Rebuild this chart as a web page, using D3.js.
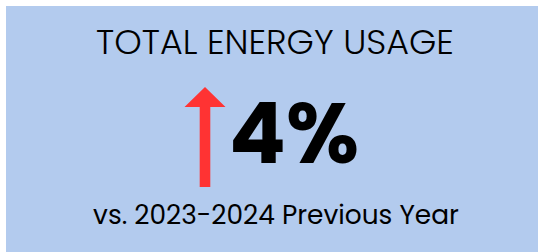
<!DOCTYPE html>
<html><head><meta charset="utf-8">
<script src="https://cdn.jsdelivr.net/npm/d3@7"></script>
<style>html,body{margin:0;padding:0;background:#fff;}svg{display:block;}</style>
</head><body>
<script>
const titles = ["TOTAL ENERGY USAGE"];
const changeValues = [4];
const changeDirections = ["up"];
const subtitles = ["vs. 2023-2024 Previous Year"];

const W = 542, H = 252;
const svg = d3.select("body").append("svg").attr("width", W).attr("height", H);
svg.append("rect").attr("x", 6).attr("y", 6).attr("width", 532).attr("height", 250).attr("fill", "#b3cbee");

const font = "Poppins, Lato, 'Open Sans', sans-serif";
const fmt = d3.format(".0%");

function fit(sel, target) {
  const w = sel.node().getComputedTextLength();
  const fs = parseFloat(sel.attr("font-size"));
  sel.attr("font-size", fs * target / w);
}

const t = svg.append("text").attr("x", 275).attr("y", 54).attr("text-anchor", "middle")
  .attr("font-family", font).attr("font-weight", 300).attr("font-size", 32).attr("fill", "#000")
  .text(titles[0]);
fit(t, 358);

const v = svg.append("text").attr("x", 229).attr("y", 163).attr("text-anchor", "start")
  .attr("font-family", font).attr("font-weight", 700).attr("font-size", 90).attr("fill", "#000")
  .text(fmt(changeValues[0] / 100));
fit(v, 130);

const s = svg.append("text").attr("x", 276).attr("y", 224).attr("text-anchor", "middle")
  .attr("font-family", font).attr("font-weight", 400).attr("font-size", 25).attr("fill", "#000")
  .text(subtitles[0]);
fit(s, 366);

// arrow
const y = d3.scaleLinear().domain([0, 1]).range([187, 87]);
const cx = 205;
const dir = changeDirections[0] === "up" ? 1 : -1;
const path = d3.path();
path.moveTo(cx - 5.3, y(0));
path.lineTo(cx - 5.3, y(0.8));
path.lineTo(cx - 20.5, y(0.8));
path.lineTo(cx, y(1));
path.lineTo(cx + 20.5, y(0.8));
path.lineTo(cx + 5.3, y(0.8));
path.lineTo(cx + 5.3, y(0));
path.closePath();
svg.append("path").attr("d", path.toString()).attr("fill", "#ff3333");
</script>
</body></html>
